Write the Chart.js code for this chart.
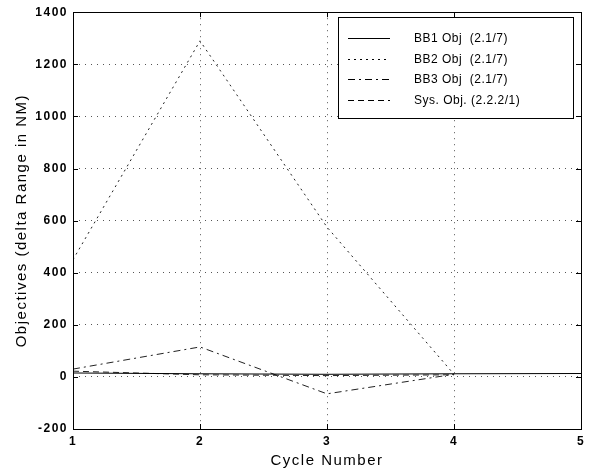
<!DOCTYPE html>
<html>
<head>
<meta charset="utf-8">
<script src="https://cdn.jsdelivr.net/npm/chart.js@4.4.0/dist/chart.umd.min.js"></script>
<style>
html, body { margin: 0; padding: 0; background: #fff; }
#wrap { width: 611px; height: 471px; }
</style>
</head>
<body>
<div id="wrap"><canvas id="chart"></canvas></div>
<script>
// values
const cycles = [1, 2, 3, 4, 5];
const bb1Obj = [15, 12, 10, 12, 13];
const bb2Obj = [450, 1290, 575, 10];
const bb3Obj = [30, 115, -65, 10];
const sysObj = [22, 8, 5, 8];
const seriesLabels = ['BB1 Obj  (2.1/7)', 'BB2 Obj  (2.1/7)', 'BB3 Obj  (2.1/7)', 'Sys. Obj. (2.2.2/1)'];
const yMin = -200, yMax = 1400, yStep = 200;

const toPoints = (vals) => vals.map((v, i) => ({ x: cycles[i], y: v }));

const tickFont = { family: "'Liberation Sans', Arial, sans-serif", size: 12, weight: 'bold' };
const titleFont = { family: "'Liberation Sans', Arial, sans-serif", size: 15 };

// the scanned matlab font is widely spaced
const spacingPlugin = {
    id: 'spacing',
    beforeDraw(chart) {
        chart.ctx.letterSpacing = '1.5px';
    }
};

// box around plot, inward ticks, and the legend inside the axes
const framePlugin = {
    id: 'frame',
    afterDraw(chart) {
        const ctx = chart.ctx;
        const a = chart.chartArea;
        const xs = chart.scales.x, ys = chart.scales.y;
        ctx.save();
        ctx.strokeStyle = '#000';
        ctx.lineWidth = 1;
        ctx.setLineDash([]);
        ctx.strokeRect(Math.round(a.left) + 0.5, Math.round(a.top) + 0.5,
            Math.round(a.right - a.left), Math.round(a.bottom - a.top));
        ctx.beginPath();
        xs.ticks.forEach(t => {
            const px = Math.round(xs.getPixelForValue(t.value)) + 0.5;
            ctx.moveTo(px, a.bottom); ctx.lineTo(px, a.bottom - 5);
            ctx.moveTo(px, a.top); ctx.lineTo(px, a.top + 5);
        });
        ys.ticks.forEach(t => {
            const py = Math.round(ys.getPixelForValue(t.value)) + 0.5;
            ctx.moveTo(a.left, py); ctx.lineTo(a.left + 5, py);
            ctx.moveTo(a.right, py); ctx.lineTo(a.right - 5, py);
        });
        ctx.stroke();

        // legend
        const bx = a.right - 243, by = a.top + 5, bw = 235, bh = 101;
        ctx.fillStyle = '#fff';
        ctx.fillRect(bx, by, bw, bh);
        ctx.strokeRect(Math.round(bx) + 0.5, Math.round(by) + 0.5, bw, bh);
        ctx.font = "12px 'Liberation Sans', Arial, sans-serif";
        ctx.letterSpacing = '0.5px';
        ctx.textBaseline = 'middle';
        ctx.fillStyle = '#000';
        chart.data.datasets.forEach((ds, i) => {
            const ry = Math.round(by + 21 + i * 20.5) + 0.5;
            ctx.beginPath();
            ctx.setLineDash(ds.borderDash || []);
            ctx.moveTo(bx + 10, ry);
            ctx.lineTo(bx + 52, ry);
            ctx.stroke();
            ctx.setLineDash([]);
            ctx.fillText(ds.label, bx + 76, ry);
        });
        ctx.restore();
    }
};

new Chart(document.getElementById('chart'), {
    type: 'line',
    data: {
        datasets: [{
            label: seriesLabels[0],
            data: toPoints(bb1Obj),
            borderColor: '#000',
            borderWidth: 1,
        }, {
            label: seriesLabels[1],
            data: toPoints(bb2Obj),
            borderColor: '#222',
            borderWidth: 1,
            borderDash: [2, 4],
        }, {
            label: seriesLabels[2],
            data: toPoints(bb3Obj),
            borderColor: '#222',
            borderWidth: 1,
            borderDash: [7, 4, 2, 4],
        }, {
            label: seriesLabels[3],
            data: toPoints(sysObj),
            borderColor: '#222',
            borderWidth: 1,
            borderDash: [6, 4],
        }]
    },
    options: {
        responsive: true,
        maintainAspectRatio: false,
        animation: false,
        layout: {
            padding: { top: 12, right: 30, left: 0, bottom: 0 }
        },
        elements: {
            point: { radius: 0 },
            line: { tension: 0, fill: false }
        },
        scales: {
            x: {
                type: 'linear',
                min: cycles[0],
                max: cycles[cycles.length - 1],
                afterFit: (scale) => { scale.height = 42; },
                ticks: {
                    stepSize: 1,
                    color: '#000',
                    font: tickFont,
                    padding: 5,
                    callback: (v) => String(v)
                },
                grid: {
                    drawTicks: false,
                    color: '#555',
                    lineWidth: 1
                },
                border: { display: false, dash: [1, 5] },
                title: {
                    display: true,
                    text: 'Cycle Number',
                    color: '#000',
                    font: titleFont,
                    padding: { top: 0, bottom: 1 }
                }
            },
            y: {
                min: yMin,
                max: yMax,
                afterFit: (scale) => { scale.width = 73; },
                ticks: {
                    stepSize: yStep,
                    color: '#000',
                    font: tickFont,
                    padding: 5,
                    callback: (v) => String(v)
                },
                grid: {
                    drawTicks: false,
                    color: '#555',
                    lineWidth: 1
                },
                border: { display: false, dash: [1, 5] },
                title: {
                    display: true,
                    text: 'Objectives (delta Range in NM)',
                    color: '#000',
                    font: titleFont,
                    padding: { top: 13, bottom: 0 }
                }
            }
        },
        plugins: {
            legend: { display: false },
            tooltip: { enabled: false }
        }
    },
    plugins: [spacingPlugin, framePlugin]
});
</script>
</body>
</html>
